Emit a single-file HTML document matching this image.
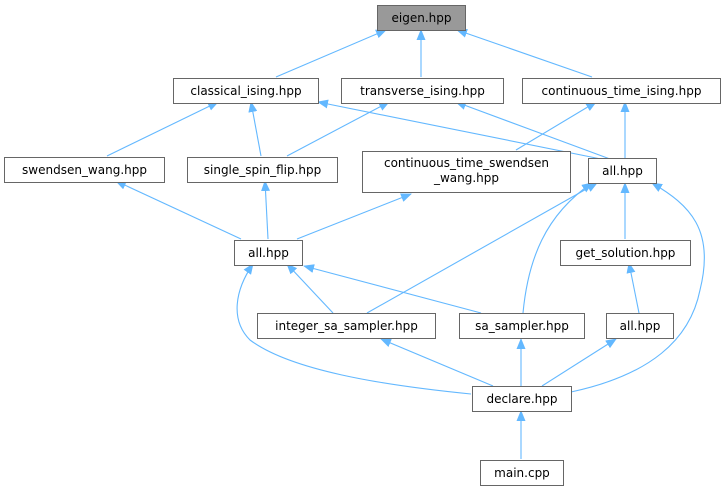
<!DOCTYPE html>
<html><head><meta charset="utf-8"><style>
html,body{margin:0;padding:0;background:#fff;width:726px;height:491px;overflow:hidden}
text{font-family:"DejaVu Sans","Liberation Sans",sans-serif;font-size:12px;fill:#000}
</style></head><body>
<svg width="726" height="491" viewBox="0 0 726 491" xmlns="http://www.w3.org/2000/svg">
<defs><marker id="a" markerWidth="11" markerHeight="9" refX="10" refY="4.5" orient="auto" markerUnits="userSpaceOnUse"><path d="M0,0 L11,4.5 L0,9 Z" fill="#63b8ff"/></marker></defs>
<g stroke="#63b8ff" stroke-width="1.1" fill="none" marker-end="url(#a)">
<line x1="276" y1="77" x2="386" y2="30"/>
<line x1="421" y1="77" x2="421" y2="30"/>
<line x1="592" y1="77" x2="457" y2="30"/>
<line x1="107" y1="156" x2="218" y2="102"/>
<line x1="261" y1="156" x2="251" y2="102"/>
<line x1="601" y1="159" x2="318" y2="102"/>
<line x1="287" y1="156" x2="389" y2="102"/>
<line x1="610" y1="159" x2="456" y2="102"/>
<line x1="516" y1="150" x2="596" y2="102"/>
<line x1="625" y1="159" x2="625" y2="102"/>
<line x1="241" y1="239" x2="116" y2="181"/>
<line x1="268" y1="239" x2="265" y2="181"/>
<line x1="297" y1="239" x2="411" y2="194"/>
<line x1="367" y1="313" x2="597" y2="183"/>
<path d="M523,313 C528,260 545,215 592,183"/>
<line x1="625" y1="239" x2="625" y2="183"/>
<path d="M571,392 C650,375 690,340 700,290 C715,230 690,205 652,183"/>
<line x1="333" y1="313" x2="287" y2="264"/>
<line x1="481" y1="313" x2="304" y2="266"/>
<path d="M471,394 C380,385 290,370 250,340 C230,320 235,290 253,264"/>
<line x1="493" y1="386" x2="381" y2="339"/>
<line x1="521" y1="386" x2="521" y2="339"/>
<line x1="542" y1="386" x2="616" y2="339"/>
<line x1="639" y1="313" x2="629" y2="263"/>
<line x1="521" y1="459" x2="521" y2="411"/>
</g>
<g stroke="#666" stroke-width="1" fill="#fff">
<rect x="377.5" y="5.5" width="88" height="25" fill="#999"/>
<rect x="173.5" y="78.5" width="145" height="25"/>
<rect x="341.5" y="78.5" width="162" height="25"/>
<rect x="522.5" y="78.5" width="198" height="25"/>
<rect x="4.5" y="157.5" width="160" height="25"/>
<rect x="187.5" y="157.5" width="150" height="25"/>
<rect x="362.5" y="151.5" width="208" height="41"/>
<rect x="588.5" y="158.5" width="68" height="25"/>
<rect x="234.5" y="240.5" width="68" height="25"/>
<rect x="560.5" y="240.5" width="130" height="25"/>
<rect x="257.5" y="313.5" width="178" height="25"/>
<rect x="459.5" y="313.5" width="125" height="25"/>
<rect x="606.5" y="313.5" width="67" height="25"/>
<rect x="472.5" y="386.5" width="99" height="25"/>
<rect x="480.5" y="460.5" width="83" height="25"/>
</g>
<g text-anchor="middle">
<text x="421.5" y="22">eigen.hpp</text>
<text x="246" y="95">classical_ising.hpp</text>
<text x="422.5" y="95">transverse_ising.hpp</text>
<text x="621.5" y="95">continuous_time_ising.hpp</text>
<text x="84.5" y="174">swendsen_wang.hpp</text>
<text x="262.5" y="174">single_spin_flip.hpp</text>
<text x="466.5" y="167">continuous_time_swendsen</text>
<text x="466.5" y="182">_wang.hpp</text>
<text x="622.5" y="175">all.hpp</text>
<text x="268.5" y="257">all.hpp</text>
<text x="625.5" y="257">get_solution.hpp</text>
<text x="346.5" y="330">integer_sa_sampler.hpp</text>
<text x="522" y="330">sa_sampler.hpp</text>
<text x="640" y="330">all.hpp</text>
<text x="522" y="403">declare.hpp</text>
<text x="522" y="477">main.cpp</text>
</g>
</svg>
</body></html>
